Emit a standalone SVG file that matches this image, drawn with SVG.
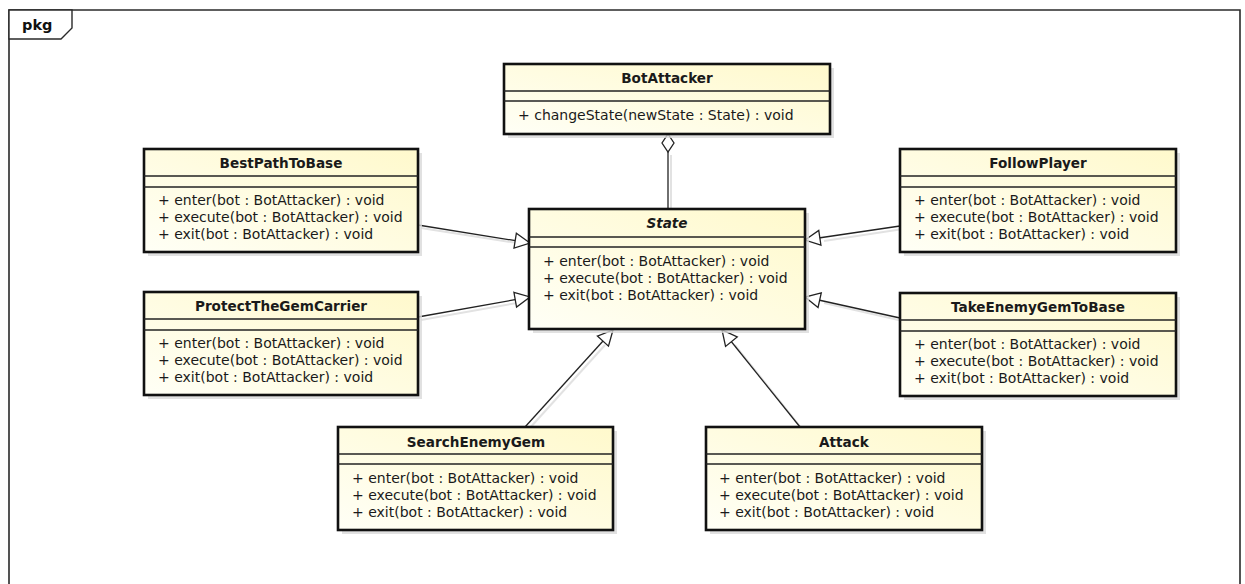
<svg xmlns="http://www.w3.org/2000/svg" width="1245" height="584" viewBox="0 0 1245 584">
  <defs>
    <linearGradient id="classFill" x1="0" y1="1" x2="1" y2="0">
      <stop offset="0" stop-color="#FFFFF6"/>
      <stop offset="1" stop-color="#FFF9CC"/>
    </linearGradient>
    <marker id="generalization" markerUnits="userSpaceOnUse" markerWidth="20" markerHeight="20" refX="16" refY="8.5" orient="auto" overflow="visible">
      <path d="M1,1 L16,8.5 L1,16 Z" fill="#ffffff" stroke="#222" stroke-width="1.3"/>
    </marker>
    <marker id="aggregation" markerUnits="userSpaceOnUse" markerWidth="22" markerHeight="14" refX="1" refY="7" orient="auto" overflow="visible">
      <path d="M1,7 L10,1 L19,7 L10,13 Z" fill="#ffffff" stroke="#222" stroke-width="1.3"/>
    </marker>
  </defs>
  <style>
    .frame { fill: none; stroke: #2a2a2a; stroke-width: 1.6; }
    .tab { fill: #ffffff; stroke: #2a2a2a; stroke-width: 1.4; }
    .shadow { fill: #d9d9d9; opacity: 0.8; }
    .box { fill: url(#classFill); stroke: #111; stroke-width: 2.6; }
    .sep { stroke: #222; stroke-width: 1.3; }
    .name { font-family: "DejaVu Sans", "Liberation Sans", sans-serif; font-size: 13.6px; font-weight: bold; fill: #1a1a1a; text-anchor: middle; }
    .abstract { font-style: italic; }
    .op { font-family: "DejaVu Sans", "Liberation Sans", sans-serif; font-size: 14px; fill: #1a1a1a; }
    .pkg { font-family: "DejaVu Sans", "Liberation Sans", sans-serif; font-size: 14.5px; font-weight: bold; fill: #111; }
    .edge { fill: none; stroke: #222; stroke-width: 1.3; }
    .edgeShadow { fill: none; stroke: #e2e2e2; stroke-width: 2; }
  </style>

  <rect width="1245" height="584" fill="#ffffff"/>

  <!-- package frame -->
  <g id="package">
    <path class="frame" d="M9,590 L9,10 L1240,10 L1240,590"/>
    <path class="tab" d="M9,10 L72,10 L72,28 L61,39 L9,39 Z"/>
    <text class="pkg" x="22" y="30">pkg</text>
  </g>

  <!-- connectors -->
  <g id="connectors">
    <g transform="translate(3,3)">
      <line class="edgeShadow" x1="668" y1="152" x2="668" y2="209"/>
      <line class="edgeShadow" x1="418" y1="225" x2="514" y2="240"/>
      <line class="edgeShadow" x1="418" y1="317" x2="514" y2="300"/>
      <line class="edgeShadow" x1="900" y1="226" x2="821" y2="238"/>
      <line class="edgeShadow" x1="900" y1="318" x2="821" y2="300"/>
      <line class="edgeShadow" x1="525" y1="427" x2="602" y2="342"/>
      <line class="edgeShadow" x1="800" y1="427" x2="732" y2="342"/>
    </g>
    <line class="edge" x1="668" y1="134" x2="668" y2="209" marker-start="url(#aggregation)"/>
    <line class="edge" x1="418" y1="225" x2="530" y2="243" marker-end="url(#generalization)"/>
    <line class="edge" x1="418" y1="317" x2="530" y2="297" marker-end="url(#generalization)"/>
    <line class="edge" x1="900" y1="226" x2="805" y2="240" marker-end="url(#generalization)"/>
    <line class="edge" x1="900" y1="318" x2="805" y2="297" marker-end="url(#generalization)"/>
    <line class="edge" x1="525" y1="427" x2="613" y2="330" marker-end="url(#generalization)"/>
    <line class="edge" x1="800" y1="427" x2="722" y2="330" marker-end="url(#generalization)"/>
  </g>

  <!-- BotAttacker -->
  <g id="BotAttacker">
    <rect class="shadow" x="508" y="68" width="326" height="70"/>
    <rect class="box" x="504" y="64" width="326" height="70"/>
    <line class="sep" x1="504" y1="91" x2="830" y2="91"/>
    <line class="sep" x1="504" y1="101" x2="830" y2="101"/>
    <text class="name" x="667" y="83">BotAttacker</text>
    <text class="op" x="518" y="120">+ changeState(newState : State) : void</text>
  </g>

  <!-- State (abstract) -->
  <g id="State">
    <rect class="shadow" x="533" y="213" width="276" height="120"/>
    <rect class="box" x="529" y="209" width="276" height="120"/>
    <line class="sep" x1="529" y1="237" x2="805" y2="237"/>
    <line class="sep" x1="529" y1="247" x2="805" y2="247"/>
    <text class="name abstract" x="667" y="228">State</text>
    <text class="op" x="543" y="266">+ enter(bot : BotAttacker) : void</text>
    <text class="op" x="543" y="283">+ execute(bot : BotAttacker) : void</text>
    <text class="op" x="543" y="300">+ exit(bot : BotAttacker) : void</text>
  </g>

  <!-- BestPathToBase -->
  <g id="BestPathToBase">
    <rect class="shadow" x="148" y="153" width="274" height="103"/>
    <rect class="box" x="144" y="149" width="274" height="103"/>
    <line class="sep" x1="144" y1="176" x2="418" y2="176"/>
    <line class="sep" x1="144" y1="187" x2="418" y2="187"/>
    <text class="name" x="281" y="168">BestPathToBase</text>
    <text class="op" x="158" y="205">+ enter(bot : BotAttacker) : void</text>
    <text class="op" x="158" y="222">+ execute(bot : BotAttacker) : void</text>
    <text class="op" x="158" y="239">+ exit(bot : BotAttacker) : void</text>
  </g>

  <!-- FollowPlayer -->
  <g id="FollowPlayer">
    <rect class="shadow" x="904" y="153" width="276" height="103"/>
    <rect class="box" x="900" y="149" width="276" height="103"/>
    <line class="sep" x1="900" y1="176" x2="1176" y2="176"/>
    <line class="sep" x1="900" y1="187" x2="1176" y2="187"/>
    <text class="name" x="1038" y="168">FollowPlayer</text>
    <text class="op" x="914" y="205">+ enter(bot : BotAttacker) : void</text>
    <text class="op" x="914" y="222">+ execute(bot : BotAttacker) : void</text>
    <text class="op" x="914" y="239">+ exit(bot : BotAttacker) : void</text>
  </g>

  <!-- ProtectTheGemCarrier -->
  <g id="ProtectTheGemCarrier">
    <rect class="shadow" x="148" y="296" width="274" height="103"/>
    <rect class="box" x="144" y="292" width="274" height="103"/>
    <line class="sep" x1="144" y1="319" x2="418" y2="319"/>
    <line class="sep" x1="144" y1="330" x2="418" y2="330"/>
    <text class="name" x="281" y="311">ProtectTheGemCarrier</text>
    <text class="op" x="158" y="348">+ enter(bot : BotAttacker) : void</text>
    <text class="op" x="158" y="365">+ execute(bot : BotAttacker) : void</text>
    <text class="op" x="158" y="382">+ exit(bot : BotAttacker) : void</text>
  </g>

  <!-- TakeEnemyGemToBase -->
  <g id="TakeEnemyGemToBase">
    <rect class="shadow" x="904" y="297" width="276" height="103"/>
    <rect class="box" x="900" y="293" width="276" height="103"/>
    <line class="sep" x1="900" y1="320" x2="1176" y2="320"/>
    <line class="sep" x1="900" y1="331" x2="1176" y2="331"/>
    <text class="name" x="1038" y="312">TakeEnemyGemToBase</text>
    <text class="op" x="914" y="349">+ enter(bot : BotAttacker) : void</text>
    <text class="op" x="914" y="366">+ execute(bot : BotAttacker) : void</text>
    <text class="op" x="914" y="383">+ exit(bot : BotAttacker) : void</text>
  </g>

  <!-- SearchEnemyGem -->
  <g id="SearchEnemyGem">
    <rect class="shadow" x="342" y="431" width="275" height="103"/>
    <rect class="box" x="338" y="427" width="275" height="103"/>
    <line class="sep" x1="338" y1="454" x2="613" y2="454"/>
    <line class="sep" x1="338" y1="464" x2="613" y2="464"/>
    <text class="name" x="476" y="447">SearchEnemyGem</text>
    <text class="op" x="352" y="483">+ enter(bot : BotAttacker) : void</text>
    <text class="op" x="352" y="500">+ execute(bot : BotAttacker) : void</text>
    <text class="op" x="352" y="517">+ exit(bot : BotAttacker) : void</text>
  </g>

  <!-- Attack -->
  <g id="Attack">
    <rect class="shadow" x="710" y="431" width="276" height="103"/>
    <rect class="box" x="706" y="427" width="276" height="103"/>
    <line class="sep" x1="706" y1="454" x2="982" y2="454"/>
    <line class="sep" x1="706" y1="464" x2="982" y2="464"/>
    <text class="name" x="844" y="447">Attack</text>
    <text class="op" x="719" y="483">+ enter(bot : BotAttacker) : void</text>
    <text class="op" x="719" y="500">+ execute(bot : BotAttacker) : void</text>
    <text class="op" x="719" y="517">+ exit(bot : BotAttacker) : void</text>
  </g>
</svg>
